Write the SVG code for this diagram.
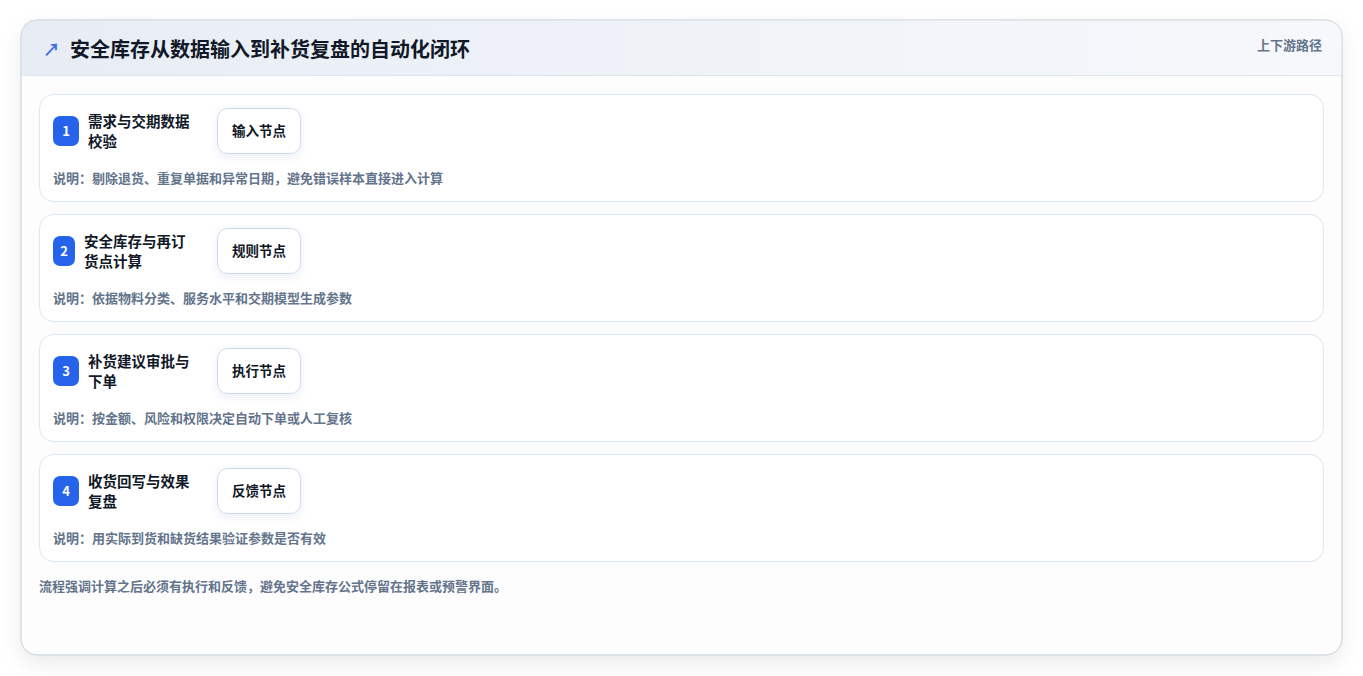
<svg xmlns="http://www.w3.org/2000/svg" width="1363" height="676" viewBox="0 0 1363 676">
<defs>
<linearGradient id="hdr" x1="0" y1="0" x2="1" y2="0"><stop offset="0" stop-color="#e8edf5"/><stop offset="1" stop-color="#f6f8fb"/></linearGradient>
<filter id="sh" x="-5%" y="-10%" width="110%" height="125%"><feDropShadow dx="0" dy="8" stdDeviation="10" flood-color="#0f172a" flood-opacity="0.08"/></filter>
<filter id="psh" x="-20%" y="-20%" width="140%" height="160%"><feDropShadow dx="0" dy="3" stdDeviation="4" flood-color="#1e3a8a" flood-opacity="0.08"/></filter>
<clipPath id="oc"><rect x="21" y="20" width="1321" height="635" rx="16"/></clipPath>
<style>
text{font-family:"Noto Sans CJK SC","Noto Sans",sans-serif}
.card{fill:#ffffff;stroke:#dce6f2;stroke-width:1}
.badge{fill:#2563eb}
.num{fill:#ffffff;font-size:13px;font-weight:700;text-anchor:middle}
.ttl{fill:#111827;font-size:14.5px;font-weight:700}
.pill{fill:#ffffff;stroke:#c9d9ef;stroke-width:1}
.ptxt{fill:#111827;font-size:13.5px;font-weight:700;text-anchor:middle}
.desc{fill:#64748b;font-size:13px;font-weight:700}
</style>
</defs>
<rect width="1363" height="676" fill="#ffffff"/>
<g id="frame">
<rect x="21" y="20" width="1321" height="635" rx="16" fill="#fdfdfe" stroke="#d3d9e2" filter="url(#sh)"/>
<g clip-path="url(#oc)">
<rect x="21" y="20" width="1321" height="55" fill="url(#hdr)"/>
<line x1="21" y1="75.5" x2="1342" y2="75.5" stroke="#dde5ef"/>
</g>
<rect x="21" y="20" width="1321" height="635" rx="16" fill="none" stroke="#d3d9e2"/>
<text x="43" y="56" fill="#3b6fe0" font-size="17" font-weight="700">↗</text>
<text x="70" y="56.5" fill="#111827" font-size="20" font-weight="700">安全库存从数据输入到补货复盘的自动化闭环</text>
<text x="1322" y="50" fill="#64748b" font-size="13" font-weight="700" text-anchor="end">上下游路径</text>
</g>
<g id="connectors"></g>
<g id="node1">
<rect class="card" x="39.5" y="94.5" width="1284" height="107" rx="14"/>
<rect class="badge" x="53" y="116" width="26" height="30" rx="7"/>
<text class="num" x="66" y="135.5">1</text>
<text class="ttl" x="88" y="127">需求与交期数据</text>
<text class="ttl" x="88" y="147">校验</text>
<rect class="pill" x="217.5" y="108.5" width="83" height="45" rx="10" filter="url(#psh)"/>
<text class="ptxt" x="259" y="135.5">输入节点</text>
<text class="desc" x="53" y="183">说明：剔除退货、重复单据和异常日期，避免错误样本直接进入计算</text>
</g>
<g id="node2">
<rect class="card" x="39.5" y="214.5" width="1284" height="107" rx="14"/>
<rect class="badge" x="53" y="236" width="22" height="30" rx="7"/>
<text class="num" x="64" y="255.5">2</text>
<text class="ttl" x="84" y="247">安全库存与再订</text>
<text class="ttl" x="84" y="267">货点计算</text>
<rect class="pill" x="217.5" y="228.5" width="83" height="45" rx="10" filter="url(#psh)"/>
<text class="ptxt" x="259" y="255.5">规则节点</text>
<text class="desc" x="53" y="303">说明：依据物料分类、服务水平和交期模型生成参数</text>
</g>
<g id="node3">
<rect class="card" x="39.5" y="334.5" width="1284" height="107" rx="14"/>
<rect class="badge" x="53" y="356" width="26" height="30" rx="7"/>
<text class="num" x="66" y="375.5">3</text>
<text class="ttl" x="88" y="367">补货建议审批与</text>
<text class="ttl" x="88" y="387">下单</text>
<rect class="pill" x="217.5" y="348.5" width="83" height="45" rx="10" filter="url(#psh)"/>
<text class="ptxt" x="259" y="375.5">执行节点</text>
<text class="desc" x="53" y="423">说明：按金额、风险和权限决定自动下单或人工复核</text>
</g>
<g id="node4">
<rect class="card" x="39.5" y="454.5" width="1284" height="107" rx="14"/>
<rect class="badge" x="53" y="476" width="26" height="30" rx="7"/>
<text class="num" x="66" y="495.5">4</text>
<text class="ttl" x="88" y="487">收货回写与效果</text>
<text class="ttl" x="88" y="507">复盘</text>
<rect class="pill" x="217.5" y="468.5" width="83" height="45" rx="10" filter="url(#psh)"/>
<text class="ptxt" x="259" y="495.5">反馈节点</text>
<text class="desc" x="53" y="543">说明：用实际到货和缺货结果验证参数是否有效</text>
</g>
<g id="footer">
<text class="desc" x="39" y="591">流程强调计算之后必须有执行和反馈，避免安全库存公式停留在报表或预警界面。</text>
</g>
</svg>
